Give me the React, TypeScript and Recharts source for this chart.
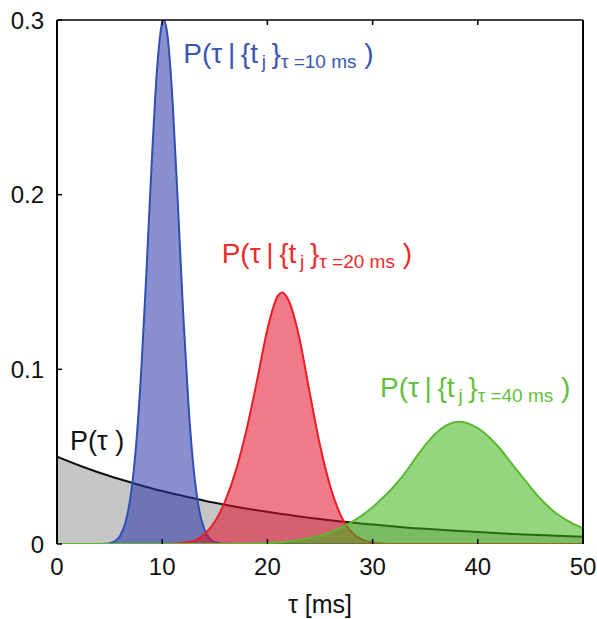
import {
  ComposedChart,
  Area,
  XAxis,
  YAxis,
  ReferenceDot,
} from "recharts";

// prior P(tau)
const priorT = [0, 2.5, 5, 7.5, 10, 12.5, 15, 17.5, 20, 22.5, 25, 27.5, 30, 32.5, 35, 37.5, 40, 42.5, 45, 47.5, 50];
const priorP = [0.05, 0.0441, 0.0389, 0.0344, 0.0303, 0.0268, 0.0236, 0.0208, 0.0184, 0.0162, 0.0143, 0.0126, 0.0112, 0.0098, 0.0087, 0.0077, 0.0068, 0.006, 0.0053, 0.0047, 0.0041];

// posterior, tau = 10 ms
const blueT = [0, 4, 4.5, 5, 5.5, 6, 6.5, 7, 7.5, 8, 8.5, 9, 9.5, 10, 10.15, 10.5, 11, 11.5, 12, 12.5, 13, 13.5, 14, 14.5, 15, 15.5, 16, 16.5, 50];
const blueP = [0, 0, 0.0001, 0.0005, 0.0016, 0.0047, 0.0121, 0.0274, 0.0552, 0.0984, 0.1556, 0.218, 0.2709, 0.2984, 0.3, 0.2913, 0.252, 0.1933, 0.1314, 0.0792, 0.0423, 0.02, 0.0084, 0.0031, 0.001, 0.0003, 0.0001, 0, 0];

// posterior, tau = 20 ms
const redT = [0, 10, 11, 12, 13, 14, 15, 16, 17, 18, 19, 20, 21, 21.4, 22, 23, 24, 25, 26, 27, 28, 29, 30, 31, 32, 50];
const redP = [0, 0, 0.0002, 0.0007, 0.0018, 0.0056, 0.0127, 0.0248, 0.042, 0.065, 0.093, 0.123, 0.1422, 0.144, 0.1397, 0.119, 0.0873, 0.0565, 0.0325, 0.016, 0.0068, 0.0025, 0.0008, 0.0002, 0, 0];

// posterior, tau = 40 ms
const greenT = [0, 16, 17, 18, 19, 20, 21, 22, 23, 24, 25, 26, 27, 28, 29, 30, 31, 32, 33, 34, 35, 36, 37, 38.2, 39, 40, 41, 42, 43, 44, 45, 46, 47, 48, 49, 50];
const greenP = [0, 0, 0.0001, 0.0002, 0.0003, 0.0005, 0.0008, 0.0014, 0.0022, 0.0033, 0.0048, 0.0068, 0.0094, 0.0126, 0.0164, 0.0211, 0.0266, 0.0328, 0.04, 0.0485, 0.0566, 0.0633, 0.0679, 0.07, 0.0692, 0.0663, 0.0616, 0.0554, 0.0478, 0.0401, 0.0326, 0.0256, 0.0198, 0.0153, 0.0118, 0.009];

const xTicks = [0, 10, 20, 30, 40, 50];
const yTicks = [0, 0.1, 0.2, 0.3];

const FONT = "'Liberation Sans', Arial, Helvetica, sans-serif";

// merge all series into one table keyed by t
const buildTable = () => {
  const rows: Record<number, any> = {};
  const add = (ts: number[], vs: number[], key: string) => {
    ts.forEach((t, i) => {
      if (!rows[t]) rows[t] = { t };
      rows[t][key] = vs[i];
    });
  };
  add(priorT, priorP, "prior");
  add(blueT, blueP, "blue");
  add(redT, redP, "red");
  add(greenT, greenP, "green");
  return Object.values(rows).sort((a: any, b: any) => a.t - b.t);
};

const data = buildTable();

const CurveLabel = (props: any) => {
  const { viewBox, color, sub } = props;
  const x = viewBox?.x ?? 0;
  const y = viewBox?.y ?? 0;
  return (
    <text x={x} y={y} fill={color} fontFamily={FONT} fontSize={28}>
      {"P(τ\u2009|\u2009{t"}
      <tspan fontSize={19} dy={5}>{"\u2009j"}</tspan>
      <tspan fontSize={28} dy={-5}>{"\u2009}"}</tspan>
      <tspan fontSize={19} dy={5}>{`τ =${sub} ms`}</tspan>
      <tspan fontSize={28} dy={-5}>{" )"}</tspan>
    </text>
  );
};

const PriorLabel = (props: any) => {
  const { viewBox } = props;
  return (
    <text x={viewBox?.x ?? 0} y={viewBox?.y ?? 0} fill="#111" fontFamily={FONT} fontSize={27}>
      P(τ )
    </text>
  );
};

export default function App() {
  return (
    <div>
      <style>{"body{margin:0}"}</style>
      <ComposedChart
        width={597}
        height={619}
        data={data}
        margin={{ top: 0, right: 0, bottom: 0, left: 0 }}
        style={{ fontFamily: FONT }}
      >
        <XAxis
          dataKey="t"
          type="number"
          domain={[0, 50]}
          ticks={xTicks}
          allowDataOverflow
          height={75}
          axisLine={false}
          tickSize={-5}
          tickMargin={19}
          tickLine={{ stroke: "#000", strokeWidth: 1.5 }}
          tick={{ fill: "#111", fontSize: 24 }}
          label={{ value: "τ [ms]", position: "insideBottom", offset: 6, fill: "#111", fontSize: 25 }}
        />
        <XAxis
          xAxisId="top"
          dataKey="t"
          type="number"
          orientation="top"
          domain={[0, 50]}
          ticks={xTicks}
          height={20}
          tickSize={-5}
          tickFormatter={() => ""}
          axisLine={{ stroke: "#000", strokeWidth: 1.5 }}
          tickLine={{ stroke: "#000", strokeWidth: 1.5 }}
        />
        <YAxis
          type="number"
          domain={[0, 0.3]}
          ticks={yTicks}
          allowDataOverflow
          width={57}
          tickSize={-5}
          tickMargin={18}
          axisLine={{ stroke: "#000", strokeWidth: 2 }}
          tickLine={{ stroke: "#000", strokeWidth: 1.5 }}
          tick={{ fill: "#111", fontSize: 24 }}
        />
        <YAxis
          yAxisId="right"
          orientation="right"
          type="number"
          domain={[0, 0.3]}
          ticks={yTicks}
          width={14}
          tickSize={-5}
          tickFormatter={() => ""}
          axisLine={{ stroke: "#000", strokeWidth: 2 }}
          tickLine={{ stroke: "#000", strokeWidth: 1.5 }}
        />
        <Area
          type="monotone"
          dataKey="prior"
          connectNulls
          stroke="#111"
          strokeWidth={2}
          fill="#c4c5c4"
          fillOpacity={1}
          isAnimationActive={false}
        />
        <Area
          type="monotone"
          dataKey="blue"
          connectNulls
          stroke="#2f4fb5"
          strokeWidth={2}
          fill="#2a33a8"
          fillOpacity={0.55}
          isAnimationActive={false}
        />
        <Area
          type="monotone"
          dataKey="red"
          connectNulls
          stroke="#ee1c25"
          strokeWidth={2}
          fill="#e40d2a"
          fillOpacity={0.55}
          isAnimationActive={false}
        />
        <Area
          type="monotone"
          dataKey="green"
          connectNulls
          stroke="#5ab832"
          strokeWidth={2}
          fill="#3cb414"
          fillOpacity={0.55}
          isAnimationActive={false}
        />
        <ReferenceDot x={12} y={0.2754} r={0} stroke="none" fill="none" label={<CurveLabel color="#3a55b4" sub="10" />} />
        <ReferenceDot x={15.65} y={0.1607} r={0} stroke="none" fill="none" label={<CurveLabel color="#ee2a2a" sub="20" />} />
        <ReferenceDot x={30.7} y={0.0843} r={0} stroke="none" fill="none" label={<CurveLabel color="#62c03a" sub="40" />} />
        <ReferenceDot x={1.24} y={0.0538} r={0} stroke="none" fill="none" label={<PriorLabel />} />
      </ComposedChart>
    </div>
  );
}
